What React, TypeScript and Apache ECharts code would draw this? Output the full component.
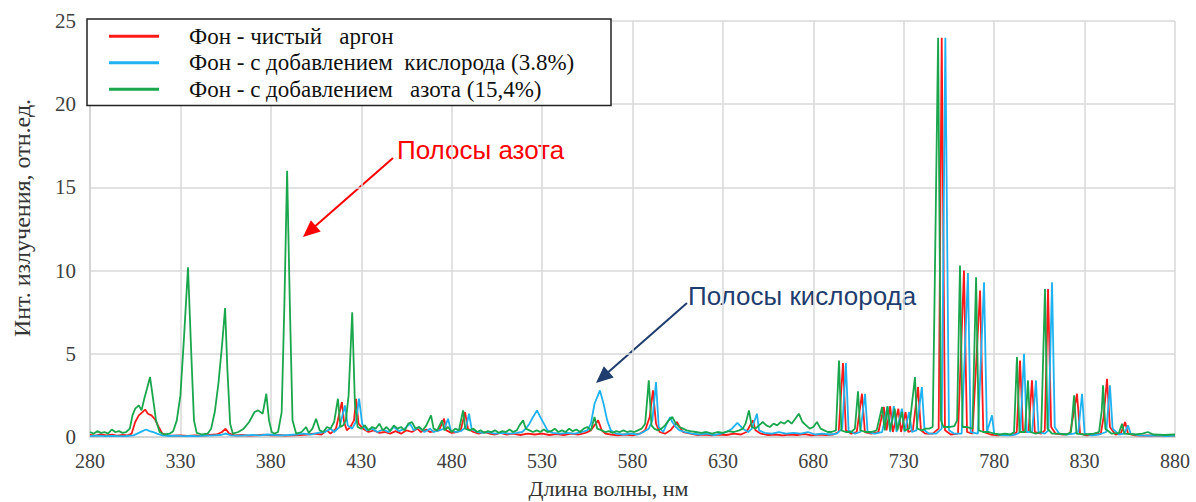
import React, { useEffect, useRef } from "react";
import * as echarts from "echarts";

// Wavelength (nm) / intensity pairs
const redArgon: [number, number][] = [
  [280,0.12],[283,0.08],[286,0.15],[289,0.1],[292,0.14],[295,0.08],[298,0.12],[301,0.1],[303,0.2],[305,0.9],[307,1.3],[309,1.5],[310.5,1.65],[312,1.4],[314,1.3],[316,1.05],[318,0.6],[320,0.2],[323,0.1],[326,0.08],[330,0.1],[334,0.06],[338,0.1],[342,0.08],[346,0.12],[350,0.15],[353,0.3],[355,0.5],[357,0.2],[360,0.1],[364,0.12],[368,0.08],[372,0.1],[376,0.14],[380,0.1],[384,0.12],[388,0.08],[392,0.1],[396,0.12],[400,0.15],[404,0.2],[408,0.15],[411,0.4],[413,0.2],[416,0.5],[419.3,2.1],[420.5,0.9],[422,0.4],[424,0.6],[426,1.0],[427.1,2.3],[428.5,0.8],[431,0.5],[434,0.3],[437,0.4],[440,0.25],[443,0.3],[446,0.2],[449,0.35],[452,0.2],[455,0.4],[458,0.3],[461,0.5],[463,0.3],[466,0.45],[468,0.3],[471,0.35],[473,0.4],[475.8,1.1],[477,0.4],[480,0.25],[483,0.3],[485,0.4],[487.4,1.5],[489,0.5],[492,0.3],[495,0.2],[498,0.3],[501,0.2],[504,0.15],[507,0.25],[510,0.15],[514,0.2],[518,0.12],[522,0.2],[526,0.15],[530,0.2],[534,0.12],[538,0.18],[542,0.12],[546,0.2],[550,0.15],[554,0.25],[557,0.4],[561,1.0],[563,0.4],[565,0.2],[568,0.15],[572,0.1],[576,0.15],[580,0.1],[584,0.2],[587,0.4],[589.5,1.2],[591.3,2.8],[593,0.8],[595,0.3],[598,0.2],[601,0.4],[604.6,0.9],[606,0.6],[608,0.3],[612,0.2],[616,0.12],[620,0.15],[624,0.1],[628,0.15],[632,0.12],[636,0.2],[640,0.15],[643,0.3],[646.6,1.0],[648,0.4],[651,0.2],[655,0.12],[659,0.15],[663,0.1],[667,0.15],[671,0.12],[675,0.18],[679,0.1],[683,0.15],[687,0.12],[691,0.15],[694,0.3],[696.4,4.45],[698,0.4],[701,0.2],[704,0.3],[706.9,2.6],[708.5,0.3],[712,0.2],[716,0.3],[719,1.8],[720.5,0.4],[722.5,1.85],[724,0.3],[727,1.7],[728.5,0.3],[731,1.5],[732.5,0.3],[735,0.4],[737.9,3.0],[739.5,0.4],[742,0.2],[746,0.2],[749.3,0.5],[751,24],[752.8,0.4],[756,0.15],[760,0.2],[763.3,10],[765,0.3],[768,0.2],[772.2,8.8],[774,0.3],[778,0.15],[782,0.1],[786,0.15],[790,0.1],[792.5,0.3],[794.3,4.6],[796,0.3],[799,0.3],[800.9,3.4],[802.5,0.3],[806,0.2],[808,0.4],[809.8,8.9],[811.5,0.6],[814,0.2],[818,0.15],[822,0.2],[825.8,2.6],[827.5,0.2],[831,0.1],[835,0.15],[839,0.2],[840.5,1.2],[842.4,3.5],[844,0.6],[847,0.15],[850,0.2],[852.4,0.9],[854,0.2],[858,0.1],[862,0.08],[866,0.1],[870,0.08],[875,0.1],[880,0.08]
];

const blueOxygen: [number, number][] = [
  [280,0.05],[284,0.08],[288,0.05],[292,0.07],[296,0.05],[300,0.06],[304,0.1],[307,0.25],[309,0.35],[311,0.45],[313,0.35],[315,0.3],[317,0.2],[320,0.1],[324,0.06],[328,0.08],[332,0.05],[336,0.07],[340,0.05],[344,0.08],[348,0.1],[352,0.12],[355,0.2],[358,0.1],[362,0.08],[366,0.1],[370,0.12],[374,0.1],[378,0.15],[382,0.12],[386,0.1],[390,0.12],[394,0.15],[398,0.2],[402,0.15],[406,0.25],[410,0.3],[413,0.5],[415,0.3],[418,0.6],[421,1.9],[422.5,0.7],[425,0.5],[427,0.9],[428.8,2.3],[430.5,0.8],[433,0.4],[436,0.5],[439,0.3],[442,0.45],[445,0.3],[448,0.6],[451,0.35],[454,0.5],[457,0.8],[459,0.4],[462,0.6],[465,0.3],[468,0.5],[470,0.3],[473,0.4],[476,0.5],[478,1.1],[479.5,0.4],[482,0.3],[485,0.35],[488,0.6],[489.6,1.4],[491,0.5],[494,0.3],[497,0.25],[500,0.3],[504,0.2],[508,0.25],[512,0.2],[516,0.25],[519,0.3],[521,0.5],[523,0.8],[525,1.2],[527.2,1.6],[529,1.2],[531,0.8],[533,0.4],[536,0.25],[540,0.2],[544,0.25],[548,0.2],[552,0.3],[555,0.4],[557,0.8],[559,2.0],[562,2.8],[564,2.0],[566,1.0],[568,0.4],[571,0.2],[575,0.15],[579,0.2],[583,0.15],[586,0.3],[589,0.5],[591,1.0],[593,3.3],[594.5,0.6],[597,0.3],[599,0.8],[600.8,1.2],[602,0.9],[604,0.6],[606,0.4],[609,0.3],[613,0.2],[617,0.15],[621,0.2],[625,0.12],[629,0.2],[632,0.3],[635,0.5],[638,0.85],[641,0.5],[644,0.3],[646,0.5],[648.8,1.4],[650,0.4],[653,0.25],[657,0.2],[661,0.3],[665,0.2],[669,0.25],[673,0.2],[677,0.3],[681,0.15],[685,0.2],[689,0.15],[693,0.2],[696,0.5],[698,4.45],[699.5,0.4],[703,0.2],[706,0.3],[708.6,2.6],[710,0.3],[714,0.2],[718,0.3],[721,1.8],[722.5,0.3],[724.5,1.85],[726,0.3],[729,1.7],[730.5,0.3],[733,1.5],[734.5,0.3],[737,0.4],[740,3.0],[741.5,0.4],[744,0.2],[748,0.2],[751,0.5],[753,24],[755,0.4],[758,0.2],[762,0.2],[765.5,9.85],[767,0.3],[771,0.2],[774.4,9.3],[776,0.3],[778.8,1.3],[780,0.2],[784,0.12],[788,0.1],[792,0.15],[794.5,0.3],[796.5,5.0],[798,0.3],[801,0.3],[803.1,3.4],[804.5,0.3],[808,0.2],[810,0.4],[812,9.3],[813.5,0.6],[816,0.2],[820,0.15],[824,0.2],[826.5,0.3],[828.6,2.6],[830,0.2],[834,0.1],[838,0.15],[842,0.3],[844,3.1],[845.5,0.5],[849,0.15],[852,0.2],[854,0.7],[855.5,0.2],[860,0.1],[865,0.08],[870,0.1],[875,0.06],[880,0.08]
];

const greenNitrogen: [number, number][] = [
  [280,0.3],[282,0.2],[284,0.35],[286,0.25],[288,0.3],[290,0.2],[292,0.45],[294,0.3],[296,0.35],[298,0.25],[300,0.3],[302,0.5],[303.5,1.3],[305,1.7],[307,1.9],[308.5,1.6],[310,2.3],[311.5,2.9],[313.2,3.6],[315,2.2],[316.5,1.0],[318.5,0.3],[321,0.15],[324,0.2],[326,0.35],[328,1.0],[330,2.5],[332,6.0],[334.2,10.2],[336,5.0],[337.5,1.0],[339,0.25],[342,0.15],[345,0.2],[347,0.5],[349,1.5],[351,3.2],[353,5.5],[354.7,7.75],[356,4.0],[357.5,0.8],[359,0.2],[362,0.3],[365,0.5],[368,0.9],[371,1.5],[373,1.6],[375.5,1.4],[377.5,2.6],[379,1.0],[380.5,0.3],[382,0.2],[384,0.3],[386,1.5],[387.5,8.0],[389,16.0],[390.5,8.0],[392,1.0],[394,0.2],[397,0.3],[399.5,0.6],[401,0.25],[403,0.5],[405,1.1],[407,0.4],[409,0.3],[411,0.6],[413,0.5],[415,0.9],[417.1,2.3],[418.5,0.6],[420,0.7],[421.5,1.0],[423,2.5],[425,7.5],[426.5,2.0],[428,0.6],[430,0.5],[432,0.7],[434,0.4],[436,0.6],[438,0.5],[440,0.8],[442,0.4],[444,0.6],[446,0.35],[448,0.7],[450,0.5],[452,0.6],[454,0.4],[456,0.8],[458,0.9],[460,0.5],[462,0.6],[464,0.4],[466,0.7],[468.6,1.3],[470,0.5],[472,0.4],[474.7,1.0],[476,0.4],[478,0.6],[480,0.3],[482,0.5],[484,0.4],[486.3,1.6],[487.5,0.5],[490,0.4],[492,0.5],[494,0.3],[496,0.4],[498,0.25],[500,0.35],[502,0.3],[504,0.4],[506,0.25],[508,0.35],[510,0.3],[512,0.45],[514,0.3],[516,0.4],[517.5,0.7],[519.5,1.0],[521,0.5],[523,0.4],[525,0.3],[527,0.4],[529,0.3],[531,0.45],[533,0.3],[535,0.35],[537,0.5],[539,0.3],[541,0.4],[543,0.3],[545,0.5],[547,0.35],[549,0.45],[551,0.3],[553,0.5],[555,0.6],[557,0.4],[559,1.2],[560.5,0.5],[563,0.4],[565,0.3],[567,0.35],[569,0.25],[571,0.35],[573,0.3],[575,0.4],[577,0.3],[579,0.35],[581,0.3],[583,0.4],[585,0.5],[587,0.8],[589,3.4],[590.5,0.7],[592,0.5],[594,0.4],[596,0.5],[598,0.7],[600,1.0],[602,1.2],[604,0.8],[606,0.6],[608,0.5],[610,0.4],[612,0.35],[615,0.3],[618,0.25],[621,0.3],[624,0.2],[627,0.3],[630,0.25],[633,0.35],[636,0.3],[639,0.4],[641,0.5],[642.5,0.8],[644.4,1.6],[646,0.6],[648,0.5],[650,0.7],[652,0.9],[654,0.7],[656,0.6],[658,0.8],[660,0.7],[662,0.9],[664,0.8],[666,1.0],[668,0.8],[670,1.1],[672,1.4],[674,0.9],[676,0.7],[678,0.5],[680,0.6],[682,0.9],[684,0.5],[686,0.4],[688,0.3],[690,0.3],[692.5,0.4],[694.2,4.6],[695.5,0.4],[698,0.3],[701,0.3],[703,0.5],[704.7,2.75],[706,0.4],[709,0.3],[712,0.3],[715,0.4],[718,1.8],[719.5,0.4],[721,1.85],[722.5,0.4],[725,1.7],[726.5,0.4],[729,1.5],[730.5,0.4],[733,0.5],[736.2,3.6],[737.5,0.5],[740,0.4],[742,0.5],[744,0.5],[746,0.6],[747,8],[749,24],[750.6,1.0],[752,0.6],[755,0.6],[758,0.65],[759.5,1.0],[761.1,10.3],[762.5,0.6],[765,0.6],[768,0.5],[770,9.6],[771.5,0.4],[774,0.3],[777,0.3],[780,0.2],[783,0.15],[786,0.2],[789,0.15],[791,0.3],[792.6,4.8],[794,0.3],[797,0.3],[798.7,3.4],[800,0.3],[803,0.2],[806,0.3],[808.1,8.9],[809.5,0.5],[812,0.2],[816,0.2],[820,0.15],[822.5,0.3],[824.2,2.5],[825.5,0.2],[830,0.15],[835,0.2],[838,0.3],[839.5,1.6],[840.2,3.1],[841.5,0.5],[845,0.2],[849,0.25],[850.7,0.8],[852,0.2],[858,0.15],[862,0.2],[865,0.3],[868,0.15],[874,0.12],[880,0.15]
];

const seriesNames = [
  "Фон - чистый   аргон",
  "Фон - с добавлением  кислорода (3.8%)",
  "Фон - с добавлением   азота (15,4%)",
];
const seriesColors = ["#ff1a1a", "#1fb2f0", "#1aa64c"];
const xTicks = { min: 280, max: 880, step: 50 };
const yTicks = { min: 0, max: 25, step: 5 };

const SERIF = "'Liberation Serif', 'Times New Roman', serif";
const SANS = "'Liberation Sans', Arial, sans-serif";

function arrow(x1: number, y1: number, tx: number, ty: number, color: string) {
  const dx = tx - x1;
  const dy = ty - y1;
  const len = Math.sqrt(dx * dx + dy * dy);
  const ux = dx / len;
  const uy = dy / len;
  const headLen = 17;
  const headHalf = 7.5;
  const bx = tx - ux * headLen;
  const by = ty - uy * headLen;
  const nx = -uy;
  const ny = ux;
  return [
    { type: "line", shape: { x1, y1, x2: bx + ux * 2, y2: by + uy * 2 }, style: { stroke: color, lineWidth: 2 } },
    {
      type: "polygon",
      shape: { points: [[tx, ty], [bx + nx * headHalf, by + ny * headHalf], [bx - nx * headHalf, by - ny * headHalf]] },
      style: { fill: color },
    },
  ];
}

export default function App() {
  const ref = useRef<HTMLDivElement>(null);

  useEffect(() => {
    if (!ref.current) return;
    const chart = echarts.init(ref.current, undefined, { renderer: "svg" });
    const datasets = [redArgon, blueOxygen, greenNitrogen];
    chart.setOption({
      animation: false,
      backgroundColor: "#ffffff",
      grid: { left: 90, right: 21, top: 21, bottom: 65, containLabel: false, outerBoundsMode: "none" },
      legend: {
        left: 87,
        top: 19,
        orient: "vertical",
        icon: "rect",
        itemWidth: 50,
        itemHeight: 3,
        itemGap: 0,
        selectedMode: false,
        backgroundColor: "#ffffff",
        borderColor: "#222222",
        borderWidth: 1.5,
        borderRadius: 0,
        padding: [4, 14, 3, 22],
        textStyle: {
          fontFamily: SERIF,
          fontSize: 23,
          color: "#111111",
          lineHeight: 26.5,
          width: 408,
          padding: [0, 0, 0, 25],
        },
        data: seriesNames,
      },
      xAxis: {
        type: "value",
        min: xTicks.min,
        max: xTicks.max,
        interval: xTicks.step,
        axisLine: { show: true, lineStyle: { color: "#d0d0d0", width: 1.5 } },
        axisTick: { show: false },
        splitLine: { show: true, lineStyle: { color: "#d9d9d9", width: 1.5 } },
        axisLabel: { fontFamily: SERIF, fontSize: 20, color: "#404040", margin: 14 },
        name: "Длина волны, нм",
        nameLocation: "middle",
        nameGap: 40,
        nameMoveOverlap: false,
        nameTextStyle: { fontFamily: SERIF, fontSize: 22, color: "#333333", padding: [0, 48, 0, 0] },
      },
      yAxis: {
        type: "value",
        min: yTicks.min,
        max: yTicks.max,
        interval: yTicks.step,
        axisLine: { show: true, lineStyle: { color: "#d0d0d0", width: 1.5 } },
        axisTick: { show: false },
        splitLine: { show: true, lineStyle: { color: "#d9d9d9", width: 1.5 } },
        axisLabel: { fontFamily: SERIF, fontSize: 21, color: "#404040", margin: 14 },
        name: "Инт. излучения, отн.ед.",
        nameLocation: "middle",
        nameGap: 56,
        nameMoveOverlap: false,
        nameTextStyle: { fontFamily: SERIF, fontSize: 24, color: "#333333", padding: [0, 0, 0, 22] },
      },
      series: datasets.map((d, i) => ({
        name: seriesNames[i],
        type: "line",
        data: d,
        showSymbol: false,
        symbol: "none",
        smooth: false,
        lineStyle: { color: seriesColors[i], width: 1.8 },
        itemStyle: { color: seriesColors[i] },
        z: 2 + i,
      })),
      graphic: [
        {
          type: "text",
          x: 397,
          y: 150,
          style: { text: "Полосы азота", fill: "#ff0000", fontFamily: SANS, fontSize: 26, verticalAlign: "middle", align: "left" },
        },
        ...arrow(393, 158, 303, 237, "#ff0000"),
        {
          type: "text",
          x: 688,
          y: 296,
          style: { text: "Полосы кислорода", fill: "#1f3d6e", fontFamily: SANS, fontSize: 26, verticalAlign: "middle", align: "left" },
        },
        ...arrow(687, 303, 596, 383, "#1f3d6e"),
      ],
    });
    return () => chart.dispose();
  }, []);

  return (
    <div
      ref={ref}
      style={{ position: "fixed", left: 0, top: 0, width: 1196, height: 502, background: "#fff" }}
    />
  );
}
